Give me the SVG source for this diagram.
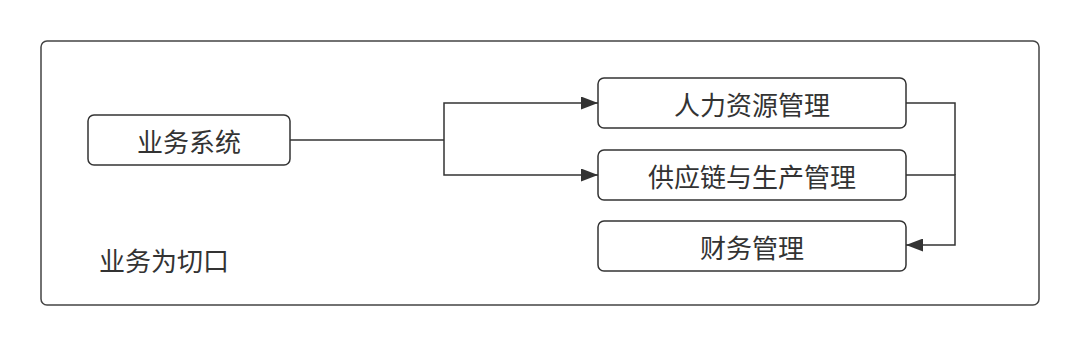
<svg xmlns="http://www.w3.org/2000/svg" width="1080" height="347" viewBox="0 0 1080 347">
<style>
.box{fill:#fff;stroke:#333;stroke-width:1.5}
.t{font-family:"Noto Sans CJK SC","Noto Sans",sans-serif;font-size:26px;fill:#333;text-anchor:middle;dominant-baseline:central}
.c{fill:none;stroke:#333;stroke-width:1.5}
</style>
<defs>
<marker id="a" viewBox="0 0 17 13" refX="17" refY="6.5" markerWidth="17" markerHeight="13" markerUnits="userSpaceOnUse" orient="auto"><path d="M0,0 L17,6.5 L0,13 z" fill="#333"/></marker>
</defs>
<rect width="1080" height="347" fill="#fff"/>
<g id="frame"><rect x="41" y="41" width="998" height="264" rx="6" fill="none" stroke="#444" stroke-width="1.5"/>
<text class="t" x="99" y="259" style="text-anchor:start">业务为切口</text></g>
<g id="n1"><rect class="box" x="88" y="115" width="202" height="50" rx="6"/><text class="t" x="189" y="140">业务系统</text></g>
<g id="n2"><rect class="box" x="598" y="78" width="308" height="50" rx="6"/><text class="t" x="752" y="103">人力资源管理</text></g>
<g id="n3"><rect class="box" x="598" y="150" width="308" height="50" rx="6"/><text class="t" x="752" y="175">供应链与生产管理</text></g>
<g id="n4"><rect class="box" x="598" y="221" width="308" height="50" rx="6"/><text class="t" x="752" y="246">财务管理</text></g>
<g id="connectors">
<path class="c" d="M290,140 H444"/>
<path class="c" d="M444,140 V103 H598" marker-end="url(#a)"/>
<path class="c" d="M444,140 V175 H598" marker-end="url(#a)"/>
<path class="c" d="M906,103 H955 V175"/>
<path class="c" d="M906,175 H955 V245 H906" marker-end="url(#a)"/>
</g>
</svg>
